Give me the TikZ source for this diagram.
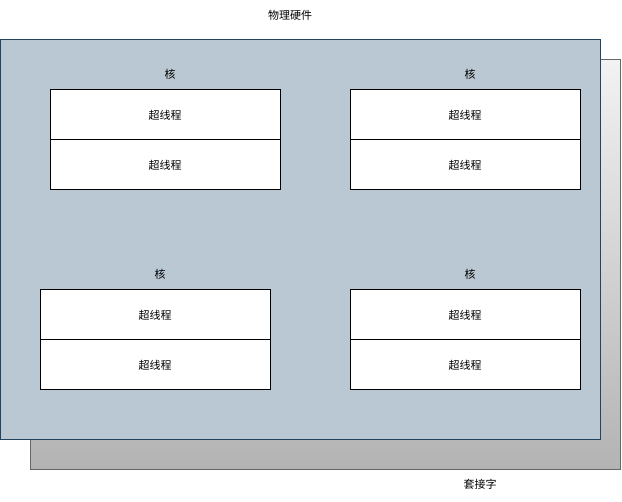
\documentclass[tikz,border=0pt]{standalone}
\usepackage{fontspec}
\setmainfont{Noto Sans CJK SC}
\usetikzlibrary{positioning}
\definecolor{hwfill}{HTML}{BAC8D3}
\definecolor{hwborder}{HTML}{23445D}
\definecolor{socktop}{HTML}{F2F2F2}
\definecolor{sockbot}{HTML}{B3B3B3}
\definecolor{sockborder}{HTML}{666666}
\tikzset{
  hwbox/.style={draw=hwborder, line width=1pt, fill=hwfill},
  sockbox/.style={draw=sockborder, line width=1pt, top color=socktop, bottom color=sockbot},
  htbox/.style={draw=black, line width=1pt, fill=white, minimum width=230pt, minimum height=50pt,
    inner sep=0pt, outer sep=0pt, font=\fontsize{11}{13}\selectfont},
  lab/.style={font=\fontsize{11}{13}\selectfont, inner sep=0pt}
}

\begin{document}
\begin{tikzpicture}[x=1pt,y=-1pt]
  \useasboundingbox (0,0) rectangle (622,502);
  \shade[sockbox] (30,60) rectangle (620,470);
  \draw[hwbox] (0,40) rectangle (600,440);
  \node[lab] (hwlab) at (290,15) {物理硬件};
  \node[lab] (socklab) at (480,484) {套接字};

  % top left core
  \node[htbox] (tla) at (165,115) {超线程};
  \node[htbox, below=0pt of tla] (tlb) {超线程};
  \node[lab] (tlcore) at (170,74) {核};

  % top right core
  \node[htbox] (tra) at (465,115) {超线程};
  \node[htbox, below=0pt of tra] (trb) {超线程};
  \node[lab] (trcore) at (470,74) {核};

  % bottom left core
  \node[htbox] (bla) at (155,315) {超线程};
  \node[htbox, below=0pt of bla] (blb) {超线程};
  \node[lab] (blcore) at (160,274) {核};

  % bottom right core
  \node[htbox] (bra) at (465,315) {超线程};
  \node[htbox, below=0pt of bra] (brb) {超线程};
  \node[lab] (brcore) at (470,274) {核};
\end{tikzpicture}
\end{document}
